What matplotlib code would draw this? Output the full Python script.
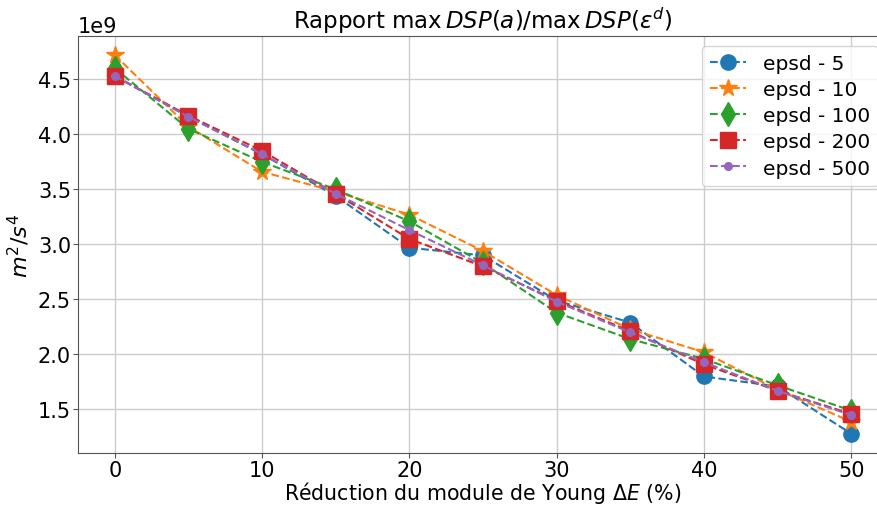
import matplotlib
matplotlib.use("Agg")
import matplotlib.pyplot as plt

# Reduction of Young's modulus (%)
reduction = [0, 5, 10, 15, 20, 25, 30, 35, 40, 45, 50]

# max DSP ratio per epsd level (x1e9)
epsd_5 = [4.53, 4.16, 3.82, 3.44, 2.97, 2.90, 2.49, 2.29, 1.80, 1.71, 1.28]
epsd_10 = [4.72, 4.07, 3.66, 3.48, 3.27, 2.94, 2.54, 2.23, 2.02, 1.68, 1.39]
epsd_100 = [4.60, 4.05, 3.75, 3.50, 3.21, 2.83, 2.38, 2.14, 1.96, 1.72, 1.49]
epsd_200 = [4.53, 4.17, 3.85, 3.46, 3.05, 2.80, 2.49, 2.21, 1.91, 1.67, 1.46]
epsd_500 = [4.53, 4.16, 3.82, 3.46, 3.13, 2.81, 2.48, 2.20, 1.93, 1.67, 1.45]

series = [
    ("epsd - 5", epsd_5, "o", "tab:blue", 11),
    ("epsd - 10", epsd_10, "*", "tab:orange", 13),
    ("epsd - 100", epsd_100, "d", "tab:green", 12),
    ("epsd - 200", epsd_200, "s", "tab:red", 11),
    ("epsd - 500", epsd_500, ".", "tab:purple", 11),
]

plt.rcParams['font.size'] = 15

fig = plt.figure(figsize=(8.77, 5.06), dpi=100)
ax = fig.add_axes([0.0889, 0.1035, 0.9236, 0.823])

for label, vals, marker, color, ms in series:
    ax.plot(reduction, [v * 1e9 for v in vals], linestyle='--', marker=marker,
            color=color, markersize=ms, linewidth=1.5, label=label)

ax.grid(True, color='#cccccc', linewidth=1)
ax.set_axisbelow(True)
for sp in ax.spines.values():
    sp.set_color('#555555')
ax.tick_params(colors='#555555', labelcolor='black', labelsize=15, pad=1.5)

ax.set_title(r'Rapport max$\,DSP(a)$/max$\,DSP(\varepsilon^d)$', fontsize=16.5)
ax.set_xlabel(r'Réduction du module de Young $\Delta E$ (%)', fontsize=14.8, labelpad=-0.5)
ax.set_ylabel(r'$m^2/s^4$', fontsize=16)
ax.yaxis.get_offset_text().set_fontsize(15)

ax.legend(loc='upper right', fontsize=14.5, labelspacing=0.35, handlelength=1.8)

fig.savefig('out.png', dpi=100)
